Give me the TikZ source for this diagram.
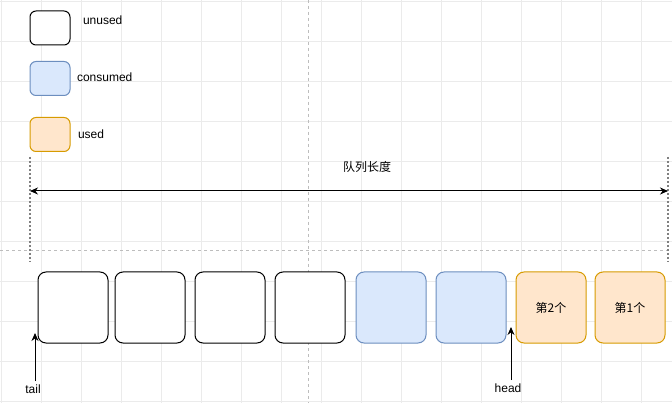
\documentclass[tikz,border=0pt]{standalone}
\usepackage{fontspec}
\setmainfont{Liberation Sans}
\newfontfamily\cjk{Noto Sans CJK SC}
\usepackage{tikz}
\usetikzlibrary{positioning}
\usetikzlibrary{arrows.meta}
\definecolor{gridgray}{HTML}{EBEBEB}
\definecolor{pagegray}{HTML}{BDBDBD}
\definecolor{dotgray}{HTML}{808080}
\definecolor{bluefill}{HTML}{DAE8FC}
\definecolor{bluedraw}{HTML}{6C8EBF}
\definecolor{orangefill}{HTML}{FFE6CC}
\definecolor{orangedraw}{HTML}{D79B00}

\begin{document}
\begin{tikzpicture}[x=1pt,y=-1pt,
	font=\fontsize{12}{14}\selectfont,
	slot/.style={draw=black,fill=white,line width=1pt,rounded corners=8pt,minimum width=70pt,minimum height=71pt,inner sep=0pt},
	unusedslot/.style={slot},
	consumedslot/.style={slot,draw=bluedraw,fill=bluefill},
	usedslot/.style={slot,draw=orangedraw,fill=orangefill},
	keybox/.style={slot,minimum width=40pt,minimum height=34pt,rounded corners=6pt},
	ptr/.style={-{Stealth[length=8pt,width=7pt]},line width=1pt},
	lenline/.style={{Stealth[length=8pt,width=7pt]}-{Stealth[length=8pt,width=7pt]},line width=1pt},
	edge mark/.style={dotgray,line width=2pt,dash pattern=on 2pt off 2pt}]
	
	\useasboundingbox (0,0) rectangle (672,403);
	\fill[white] (0,0) rectangle (672,403);
	\foreach \gx in {1,41,...,672} \draw[gridgray,line width=0.6pt] (\gx,0) -- (\gx,403);
	\foreach \gy in {1,41,...,403} \draw[gridgray,line width=0.6pt] (0,\gy) -- (672,\gy);
	\draw[pagegray,line width=0.6pt,dash pattern=on 3pt off 3pt] (308,0) -- (308,403);
	\draw[pagegray,line width=0.6pt,dash pattern=on 3pt off 3pt] (0,250) -- (672,250);
	
	% legend
	\node[keybox] at (50,28) (kunused) {}; \node[right=9pt of kunused,yshift=8pt] (tunused) {unused};
	\node[keybox,draw=bluedraw,fill=bluefill] at (50,78.5) (kconsumed) {}; \node[right=3pt of kconsumed,yshift=1pt] (tconsumed) {consumed};
	\node[keybox,draw=orangedraw,fill=orangefill] at (50,134.5) (kused) {}; \node[right=4pt of kused] (tused) {used};
	
	% queue length
	\coordinate (ltop) at (30,157); \coordinate (lbot) at (30,262);
	\coordinate (rtop) at (668,157); \coordinate (rbot) at (668,262);
	\draw[edge mark] (ltop) -- (lbot); \draw[edge mark] (rtop) -- (rbot);
	\coordinate (lenl) at (30,191); \coordinate (lenr) at (668,191);
	\draw[lenline] (lenl) -- (lenr);
	\node at (367,167) (lentxt) {\cjk 队列长度};
	
	% slots
	\node[unusedslot] at (73,307.5) (s1) {}; \node[unusedslot] at (150,307.5) (s2) {};
	\node[unusedslot] at (230,307.5) (s3) {}; \node[unusedslot] at (310,307.5) (s4) {};
	\node[consumedslot] at (391,307.5) (s5) {}; \node[consumedslot] at (471,307.5) (s6) {};
	\node[usedslot] at (551,307.5) (s7) {\cjk 第2个}; \node[usedslot] at (630,307.5) (s8) {\cjk 第1个};
	
	% pointers
	\node at (33,389) (tail) {tail}; \coordinate (tailtip) at (35,333);
	\node at (508,388) (head) {head}; \coordinate (headtip) at (511,327);
	\draw[ptr] (tail.north -| tailtip) -- (tailtip);
	\draw[ptr] (head.north -| headtip) -- (headtip);
	
\end{tikzpicture}
\end{document}
